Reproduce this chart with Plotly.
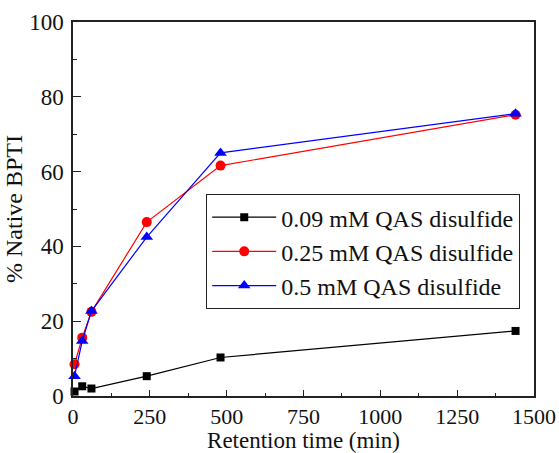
import plotly.graph_objects as go

# Retention time (min) and % native BPTI for each QAS disulfide concentration
time_min = [5, 30, 60, 240, 480, 1440]
native_009 = [1.2, 2.6, 2.0, 5.3, 10.3, 17.4]
native_025 = [8.5, 15.6, 22.5, 46.5, 61.6, 75.2]
native_05 = [5.3, 14.7, 22.7, 42.5, 65.0, 75.5]

series_names = ["0.09 mM QAS disulfide", "0.25 mM QAS disulfide", "0.5 mM QAS disulfide"]
series_values = [native_009, native_025, native_05]
series_colors = ["#000000", "#FF0000", "#0000FF"]
series_symbols = ["square", "circle", "triangle-up"]
series_sizes = [8, 10, 11]

FONT = "Liberation Serif"
INK = "#111111"

fig = go.Figure()
for name, vals, color, sym, size in zip(series_names, series_values, series_colors,
                                        series_symbols, series_sizes):
    fig.add_trace(go.Scatter(
        x=time_min, y=vals, name=name, mode="lines+markers",
        line=dict(color=color, width=1.2),
        marker=dict(symbol=sym, size=size, color=color, line=dict(width=0)),
        cliponaxis=False,
    ))

axis_common = dict(
    showline=True, linecolor="#222222", linewidth=1.5, mirror=True,
    ticks="inside", tickcolor="#222222", showgrid=False, zeroline=False,
    automargin=False,
)

fig.update_xaxes(
    range=[0, 1500], dtick=250, tick0=0, ticklen=6, tickwidth=1.2,
    minor=dict(ticks="inside", ticklen=3, dtick=125, tickcolor="#222222", tickwidth=1.2),
    tickfont=dict(family=FONT, size=22, color=INK),
    title=dict(text="Retention time (min)", font=dict(family=FONT, size=23, color=INK),
               standoff=6),
    **axis_common,
)
fig.update_yaxes(
    range=[0, 100], dtick=20, tick0=0, ticklen=8, tickwidth=1.2,
    minor=dict(ticks="inside", ticklen=4, dtick=10, tickcolor="#222222", tickwidth=1.2),
    ticklabelstandoff=3,
    tickfont=dict(family=FONT, size=23, color=INK),
    title=dict(text="% Native BPTI", font=dict(family=FONT, size=24, color=INK),
               standoff=0),
    **axis_common,
)

fig.update_layout(
    width=559, height=453,
    margin=dict(l=73, r=25, t=22, b=57),
    plot_bgcolor="white", paper_bgcolor="white",
    font=dict(family=FONT, size=23, color=INK),
    legend=dict(
        x=0.289, y=0.540, xanchor="left", yanchor="top",
        bgcolor="white", bordercolor="#222222", borderwidth=1,
        font=dict(family=FONT, size=24, color=INK),
        itemwidth=64, tracegroupgap=0,
    ),
)

fig.write_html("out.html")
